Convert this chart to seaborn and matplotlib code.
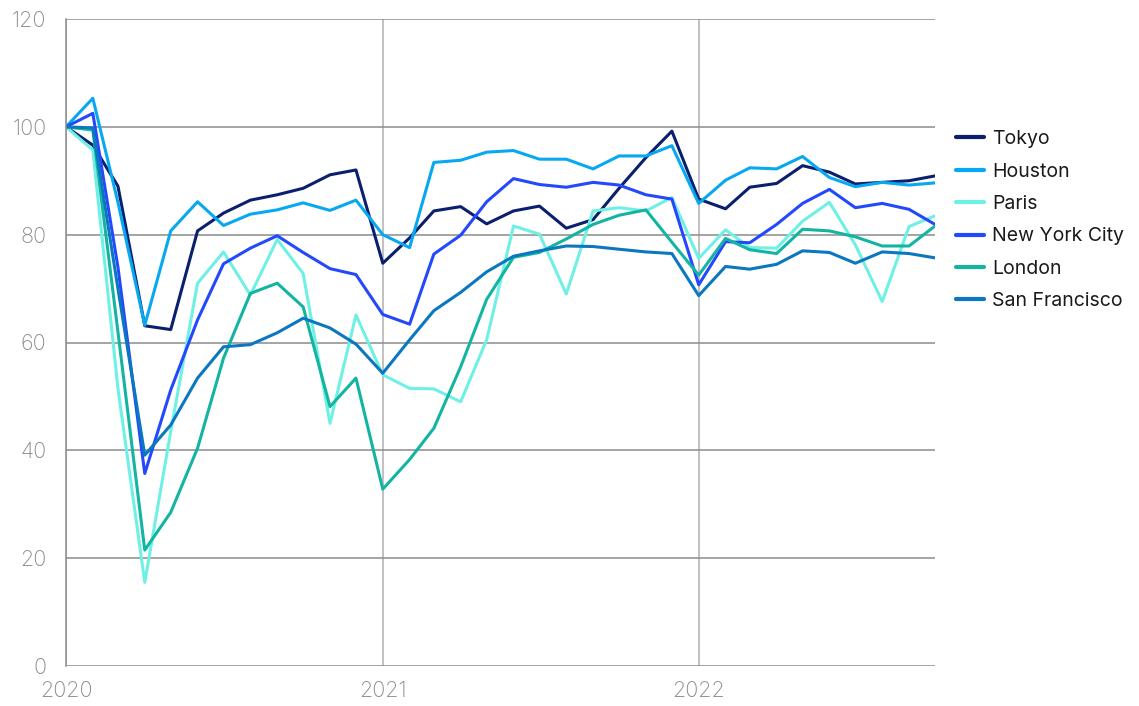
import pandas as pd
import numpy as np
import matplotlib.pyplot as plt
import matplotlib.dates as mdates
import seaborn as sns

# monthly index values, Jan 2020 = 100
months = pd.date_range("2020-01-01", "2022-10-01", freq="MS")

tokyo = [100, 96.6, 89.0, 63.1, 62.4, 80.7, 84.0, 86.4, 87.4, 88.6, 91.1, 92.0,
         74.7, 79.4, 84.4, 85.2, 82.0, 84.4, 85.3, 81.2, 82.8, 88.6, 94.3, 99.2,
         86.6, 84.8, 88.8, 89.5, 92.8, 91.6, 89.4, 89.7, 90.0, 90.9]
houston = [100, 105.3, 86.0, 63.2, 80.7, 86.1, 81.7, 83.8, 84.6, 85.9, 84.5, 86.4,
           80.0, 77.6, 93.4, 93.8, 95.3, 95.6, 94.0, 94.0, 92.2, 94.6, 94.6, 96.5,
           85.8, 90.1, 92.4, 92.2, 94.5, 90.6, 88.9, 89.7, 89.2, 89.6]
paris = [100, 95.7, 51.5, 15.5, 43.5, 71.0, 76.8, 68.8, 79.1, 72.8, 45.0, 65.1,
         54.0, 51.5, 51.4, 49.0, 60.5, 81.6, 80.1, 69.0, 84.4, 85.0, 84.4, 86.9,
         75.6, 80.9, 77.6, 77.5, 82.5, 86.0, 78.1, 67.6, 81.5, 83.5]
nyc = [100, 102.5, 74.0, 35.7, 51.2, 64.2, 74.6, 77.5, 79.8, 76.7, 73.7, 72.6,
       65.2, 63.4, 76.4, 79.9, 86.1, 90.4, 89.3, 88.8, 89.7, 89.2, 87.4, 86.6,
       70.7, 78.7, 78.5, 81.9, 85.8, 88.4, 85.0, 85.8, 84.7, 81.9]
london = [100, 99.4, 62.0, 21.5, 28.5, 40.4, 57.1, 69.1, 71.0, 66.6, 48.1, 53.4,
          32.8, 38.3, 44.1, 55.5, 68.0, 75.8, 76.7, 79.2, 81.9, 83.6, 84.6, 78.6,
          72.5, 79.3, 77.2, 76.5, 81.0, 80.7, 79.6, 77.9, 77.9, 81.6]
san_francisco = [100, 99.8, 70.0, 39.1, 44.7, 53.4, 59.2, 59.6, 61.8, 64.5, 62.7, 59.7,
                 54.3, 60.5, 65.9, 69.3, 73.1, 76.0, 77.0, 77.9, 77.8, 77.3, 76.8, 76.5,
                 68.7, 74.1, 73.6, 74.5, 77.0, 76.7, 74.7, 76.8, 76.5, 75.7]

cities = ["Tokyo", "Houston", "Paris", "New York City", "London", "San Francisco"]
colors = ["#0b1f6f", "#06a9f0", "#6ff0e5", "#2448fb", "#13b5a2", "#0a77c0"]

df = pd.DataFrame({"date": months, "Tokyo": tokyo, "Houston": houston, "Paris": paris,
                   "New York City": nyc, "London": london, "San Francisco": san_francisco})
df = df.melt(id_vars="date", var_name="city", value_name="value")

sns.set_style("white")
plt.rcParams['font.family'] = ['Inter', 'DejaVu Sans']

fig = plt.figure(figsize=(11.39, 7.06), dpi=100)
ax = fig.add_axes([66 / 1139, 1 - 666 / 706, (935 - 66) / 1139, (666 - 19) / 706])

sns.lineplot(data=df, x="date", y="value", hue="city", hue_order=cities,
             palette=colors, linewidth=2.2, ax=ax)

ax.set_xlim(months[0], months[-1])
ax.set_ylim(0, 120)
ax.set_yticks(range(0, 121, 20))
ax.xaxis.set_major_locator(mdates.YearLocator())
ax.xaxis.set_major_formatter(mdates.DateFormatter("%Y"))
ax.set_xlabel("")
ax.set_ylabel("")

# grid + axis styling
ax.grid(axis="y", color="#8c8c8c", linewidth=1.1)
ax.grid(axis="x", color="#b0b0b0", linewidth=1.1)
ax.set_axisbelow(True)
for s in ["top", "right", "bottom"]:
    ax.spines[s].set_visible(False)
ax.spines["left"].set_color("#8c8c8c")
ax.spines["left"].set_linewidth(1.1)
ax.tick_params(axis="both", length=10, width=1.1, color="#8c8c8c",
               labelcolor="#8a8a8a", labelsize=15.5, pad=4)
ax.tick_params(axis="x", pad=1)
for t in ax.get_xticklabels() + ax.get_yticklabels():
    t.set_fontweight("light")

# legend on the right
handles, labels = ax.get_legend_handles_labels()
leg = ax.legend(handles, labels, loc="upper left", bbox_to_anchor=(1.015, 0.84),
                frameon=False, fontsize=14, handlelength=1.45, handletextpad=0.4,
                labelspacing=0.74, borderaxespad=0)
for line in leg.get_lines():
    line.set_linewidth(3)
for t in leg.get_texts():
    t.set_color("#1a1a1a")

fig.savefig("out.png", dpi=100)
